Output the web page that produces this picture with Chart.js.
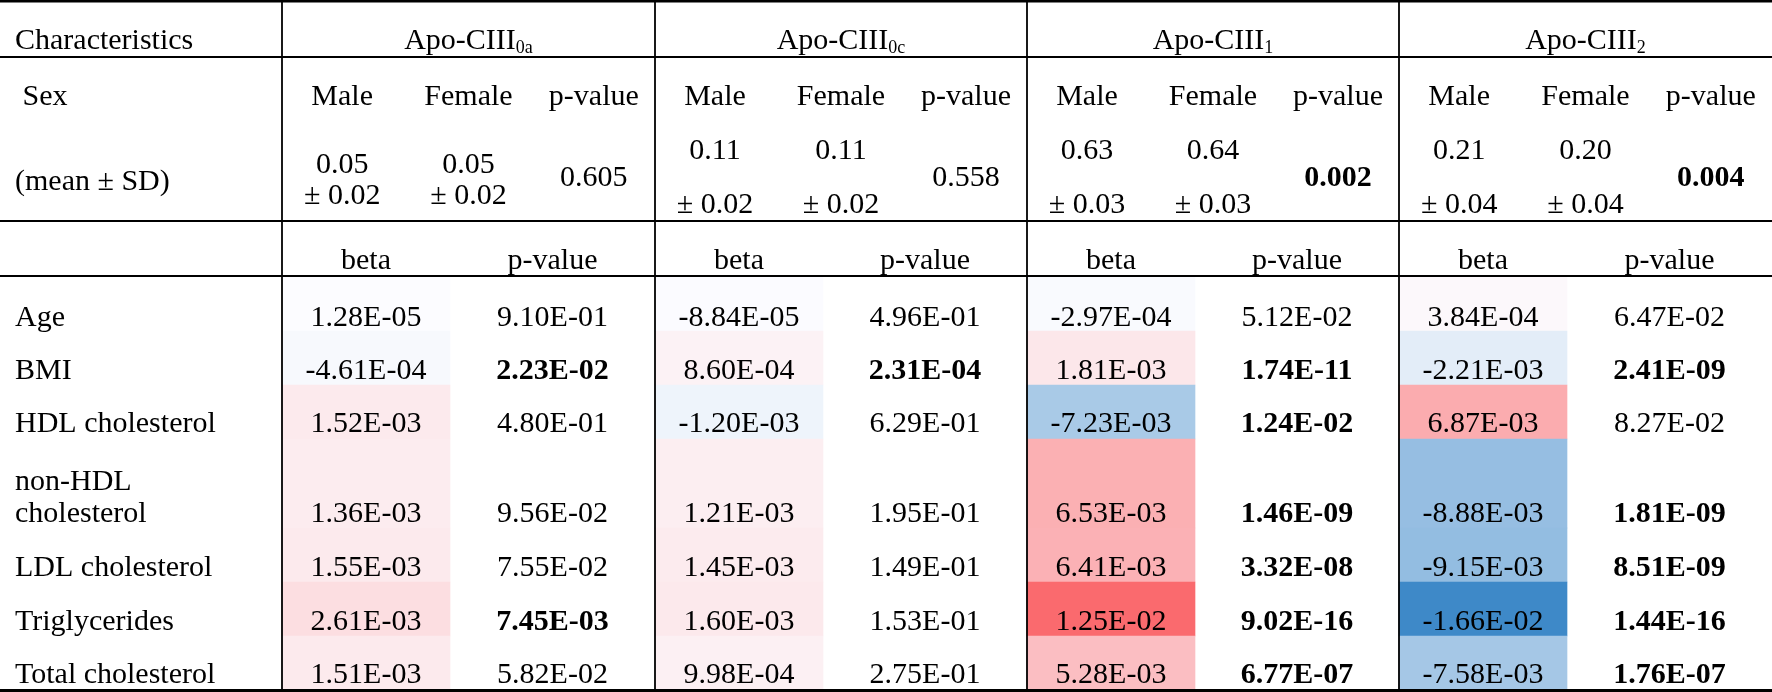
<!DOCTYPE html>
<html>
<head>
<meta charset="utf-8">
<script src="https://cdn.jsdelivr.net/npm/chart.js@4.4.1/dist/chart.umd.min.js"></script>
<style>
html,body{margin:0;padding:0;background:#fff;overflow:hidden}
#wrap{width:1772px;height:692px;position:relative}
canvas{display:block}
</style>
</head>
<body>
<div id="wrap"><canvas id="c" width="1772" height="692"></canvas></div>
<script>
// ---------------- DATA ----------------
const characteristics = ["Age", "BMI", "HDL cholesterol", "non-HDL\ncholesterol", "LDL cholesterol", "Triglycerides", "Total cholesterol"];
const groupNames = ["Apo-CIII", "Apo-CIII", "Apo-CIII", "Apo-CIII"];
const groupSubs = ["0a", "0c", "1", "2"];

const maleMean   = [0.05, 0.11, 0.63, 0.21];
const maleSD     = [0.02, 0.02, 0.03, 0.04];
const femaleMean = [0.05, 0.11, 0.64, 0.20];
const femaleSD   = [0.02, 0.02, 0.03, 0.04];
const sexP       = [0.605, 0.558, 0.002, 0.004];

const beta0a = [1.28e-5, -4.61e-4, 1.52e-3, 1.36e-3, 1.55e-3, 2.61e-3, 1.51e-3];
const pval0a = [9.10e-1, 2.23e-2, 4.80e-1, 9.56e-2, 7.55e-2, 7.45e-3, 5.82e-2];
const beta0c = [-8.84e-5, 8.60e-4, -1.20e-3, 1.21e-3, 1.45e-3, 1.60e-3, 9.98e-4];
const pval0c = [4.96e-1, 2.31e-4, 6.29e-1, 1.95e-1, 1.49e-1, 1.53e-1, 2.75e-1];
const beta1  = [-2.97e-4, 1.81e-3, -7.23e-3, 6.53e-3, 6.41e-3, 1.25e-2, 5.28e-3];
const pval1  = [5.12e-2, 1.74e-11, 1.24e-2, 1.46e-9, 3.32e-8, 9.02e-16, 6.77e-7];
const beta2  = [3.84e-4, -2.21e-3, 6.87e-3, -8.88e-3, -9.15e-3, -1.66e-2, -7.58e-3];
const pval2  = [6.47e-2, 2.41e-9, 8.27e-2, 1.81e-9, 8.51e-9, 1.44e-16, 1.76e-7];

const betas = [beta0a, beta0c, beta1, beta2];
const pvals = [pval0a, pval0c, pval1, pval2];
const significance = 0.05;

// ---------------- LAYOUT (scale units) ----------------
const W = 1772, H = 692;
const groupEdges = [282, 655, 1027, 1399, 1772];
const betaWidth = 168;
const rowEdges = [276, 331, 385, 439, 528, 582, 636, 690];
const rowBaselines = [326, 379, 432, 522, 576, 630, 683];
const hLines = [[1.3, 2.6], [57, 2], [221, 2], [276, 2], [690.5, 3]];
const FONT = '"Liberation Serif","Times New Roman",serif';
const FS = 30;

// colour scale (white -> red for positive, white -> blue for negative)
const allBeta = betas.flat();
const betaMax = Math.max(...allBeta), betaMin = Math.min(...allBeta);
const cWhite = [252, 252, 255], cRed = [250, 106, 110], cBlue = [62, 137, 200];
function colourFor(v) {
  const t = v >= 0 ? v / betaMax : v / betaMin;
  const end = v >= 0 ? cRed : cBlue;
  const c = cWhite.map((w, i) => Math.round(w + (end[i] - w) * t));
  return `rgb(${c[0]},${c[1]},${c[2]})`;
}
function fmtE(v) {
  const [m, e] = v.toExponential(2).split('e');
  const n = parseInt(e, 10);
  return m + 'E' + (n < 0 ? '-' : '+') + String(Math.abs(n)).padStart(2, '0');
}

// cells as floating bars
const cells = [];
betas.forEach((arr, g) => {
  arr.forEach((v, r) => {
    cells.push({ x: groupEdges[g] + betaWidth / 2, y: [rowEdges[r], rowEdges[r + 1]], v: v });
  });
});

const tablePlugin = {
  id: 'tableText',
  afterDatasetsDraw(chart) {
    const ctx = chart.ctx;
    const xs = chart.scales.x, ys = chart.scales.y;
    const X = v => xs.getPixelForValue(v);
    const Y = v => ys.getPixelForValue(v);
    ctx.save();
    ctx.fillStyle = '#000';
    ctx.strokeStyle = '#000';
    ctx.textBaseline = 'alphabetic';
    function txt(s, x, y, align, bold, size) {
      ctx.font = (bold ? 'bold ' : '') + (size || FS) + 'px ' + FONT;
      ctx.textAlign = align || 'center';
      ctx.fillText(s, X(x), Y(y));
    }
    // lines
    hLines.forEach(([y, w]) => {
      ctx.lineWidth = w;
      ctx.beginPath(); ctx.moveTo(X(0), Y(y)); ctx.lineTo(X(W), Y(y)); ctx.stroke();
    });
    ctx.lineWidth = 1.8;
    groupEdges.slice(0, 4).forEach(x => {
      ctx.beginPath(); ctx.moveTo(X(x), Y(0)); ctx.lineTo(X(x), Y(690)); ctx.stroke();
    });
    // header
    txt('Characteristics', 15, 49, 'left');
    groupEdges.slice(0, 4).forEach((x0, g) => {
      const cx = (x0 + groupEdges[g + 1]) / 2;
      ctx.font = FS + 'px ' + FONT;
      const w1 = ctx.measureText(groupNames[g]).width;
      ctx.font = '18px ' + FONT;
      const w2 = ctx.measureText(groupSubs[g]).width;
      const left = X(cx) - (w1 + w2) / 2;
      ctx.textAlign = 'left';
      ctx.font = FS + 'px ' + FONT;
      ctx.fillText(groupNames[g], left, Y(49));
      ctx.font = '18px ' + FONT;
      ctx.fillText(groupSubs[g], left + w1, Y(53));
    });
    // sex block
    txt(' Sex', 15, 105, 'left');
    txt('(mean \u00b1 SD)', 15, 190, 'left');
    groupEdges.slice(0, 4).forEach((x0, g) => {
      const third = (groupEdges[g + 1] - x0) / 3;
      const c1 = x0 + third * 0.5 - 2, c2 = x0 + third * 1.5, c3 = x0 + third * 2.5 + 1;
      txt('Male', c1, 105); txt('Female', c2, 105); txt('p-value', c3, 105);
      const tight = g === 0;
      const yTop = tight ? 173 : 159, yBot = tight ? 204 : 213;
      txt(maleMean[g].toFixed(2), c1, yTop);
      txt('\u00b1 ' + maleSD[g].toFixed(2), c1, yBot);
      txt(femaleMean[g].toFixed(2), c2, yTop);
      txt('\u00b1 ' + femaleSD[g].toFixed(2), c2, yBot);
      txt(sexP[g].toFixed(3), c3, 186, 'center', sexP[g] < significance);
      // beta / p-value header
      const bc = x0 + betaWidth / 2;
      const pc = (x0 + betaWidth + groupEdges[g + 1]) / 2;
      txt('beta', bc, 269); txt('p-value', pc, 269);
      // data
      betas[g].forEach((v, r) => {
        txt(fmtE(v), bc, rowBaselines[r]);
        const p = pvals[g][r];
        txt(fmtE(p), pc, rowBaselines[r], 'center', p < significance);
      });
    });
    // row labels
    characteristics.forEach((lab, r) => {
      const lines = lab.split('\n');
      lines.forEach((ln, i) => {
        txt(ln, 15, rowBaselines[r] - (lines.length - 1 - i) * 32, 'left');
      });
    });
    ctx.restore();
  }
};

new Chart(document.getElementById('c'), {
  type: 'bar',
  data: {
    datasets: [{
      label: 'beta',
      data: cells,
      backgroundColor: ctx => colourFor(ctx.raw.v),
      borderWidth: 0,
      barThickness: betaWidth
    }]
  },
  options: {
    responsive: false,
    animation: false,
    devicePixelRatio: 1,
    layout: { padding: 0 },
    plugins: { legend: { display: false }, tooltip: { enabled: false } },
    scales: {
      x: { type: 'linear', min: 0, max: W, offset: false, display: false },
      y: { type: 'linear', min: 0, max: H, reverse: true, display: false }
    }
  },
  plugins: [tablePlugin]
});
</script>
</body>
</html>
